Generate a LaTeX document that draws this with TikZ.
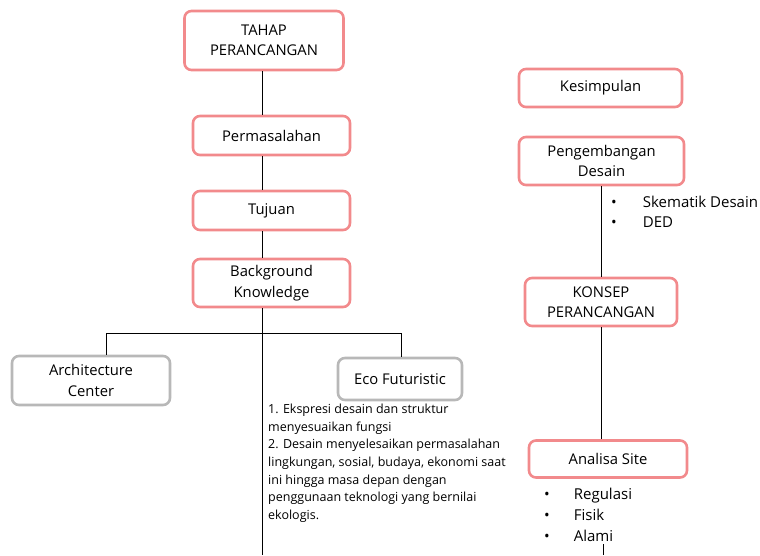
\documentclass[tikz,border=0pt]{standalone}
\usepackage{fontspec}
\setmainfont{Open Sans}
\definecolor{pinkb}{HTML}{F28A8C}
\definecolor{grayb}{HTML}{B8B8B8}
\tikzset{
  box/.style={draw=pinkb, line width=2.6pt, rounded corners=7pt, fill=white, align=center,
     font=\fontsize{14.8}{20.5}\selectfont, inner sep=0pt},
  gbox/.style={box, draw=grayb},
  conn/.style={draw=black, line width=1pt},
  plain/.style={align=left, inner sep=0pt, font=\fontsize{15}{21}\selectfont}
}
\begin{document}
\begin{tikzpicture}[x=1pt,y=-1pt]
\useasboundingbox (0,0) rectangle (760,555);
% left column
\node[box, minimum width=159pt, minimum height=59pt] (tahap) at (264,40.5) {TAHAP\\PERANCANGAN};
\node[box, minimum width=157pt, minimum height=39pt] (perm) at (271.5,135.5) {Permasalahan};
\node[box, minimum width=157pt, minimum height=39pt] (tuj) at (271.5,210.5) {Tujuan};
\node[box, minimum width=157pt, minimum height=48pt] (bg) at (271.5,283) {Background\\Knowledge};
\node[gbox, minimum width=158pt, minimum height=49pt] (arch) at (91,380.5) {Architecture\\Center};
\node[gbox, minimum width=124pt, minimum height=42pt] (eco) at (400,379) {Eco Futuristic};
\node[plain, anchor=north west, font=\fontsize{12.5}{17.6}\selectfont] (desc) at (268,404)
 {1. Ekspresi desain dan struktur\\menyesuaikan fungsi\\2. Desain menyelesaikan permasalahan\\lingkungan, sosial, budaya, ekonomi saat\\ini hingga masa depan dengan\\penggunaan teknologi yang bernilai\\ekologis.};
\coordinate (ax) at (262,555);
\coordinate (hl) at (106,333);
\coordinate (hr) at (401,333);
\draw[conn] (tahap.south -| ax) -- (perm.north -| ax);
\draw[conn] (perm.south -| ax) -- (tuj.north -| ax);
\draw[conn] (tuj.south -| ax) -- (bg.north -| ax);
\draw[conn] (bg.south -| ax) -- (ax);
\draw[conn] (arch.north -| hl) -- (hl) -- (hr) -- (eco.north -| hr);
% right column
\node[box, minimum width=163pt, minimum height=38pt] (kes) at (600.5,88) {Kesimpulan};
\node[box, minimum width=165pt, minimum height=48pt] (peng) at (601.5,161) {Pengembangan\\Desain};
\node[box, minimum width=152pt, minimum height=48pt] (kon) at (601,302) {KONSEP\\PERANCANGAN};
\node[box, minimum width=158pt, minimum height=37pt] (ana) at (608,459) {Analisa Site};
\coordinate (rx) at (601,0);
\draw[conn] (peng.south -| rx) -- (kon.north -| rx);
\draw[conn] (kon.south -| rx) -- (ana.north -| rx);
\node[plain, anchor=north west] (pbul) at (611,193)
 {\begin{tabular}{@{}l@{\hspace{26pt}}l@{}}•&Skematik Desain\\[-1pt]•&DED\end{tabular}};
\node[plain, anchor=north west] (abul) at (544,485)
 {\begin{tabular}{@{}l@{\hspace{24pt}}l@{}}•&Regulasi\\•&Fisik\\•&Alami\end{tabular}};
\coordinate (bt) at (603,544);
\coordinate (bb) at (603,555);
\draw[conn] (bt) -- (bb);
\end{tikzpicture}
\end{document}
